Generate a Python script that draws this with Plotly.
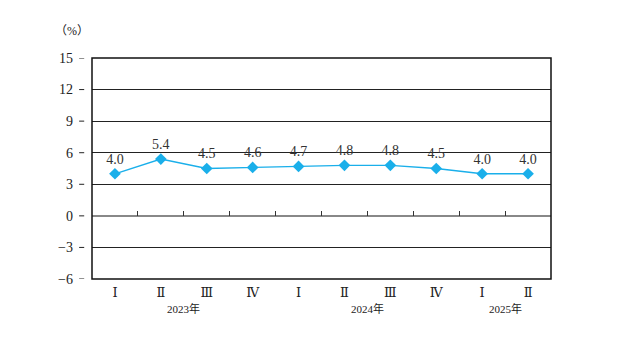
import plotly.graph_objects as go

quarters = ["Ⅰ", "Ⅱ", "Ⅲ", "Ⅳ", "Ⅰ", "Ⅱ", "Ⅲ", "Ⅳ", "Ⅰ", "Ⅱ"]
values = [4.0, 5.4, 4.5, 4.6, 4.7, 4.8, 4.8, 4.5, 4.0, 4.0]
labels = ["4.0", "5.4", "4.5", "4.6", "4.7", "4.8", "4.8", "4.5", "4.0", "4.0"]
years = ["2023年", "2024年", "2025年"]
year_spans = [(0, 3), (4, 7), (8, 9)]
yticks = [15, 12, 9, 6, 3, 0, -3, -6]

serif = "Liberation Serif, DejaVu Serif, Noto Sans CJK SC"
idx = list(range(len(values)))

fig = go.Figure()
fig.add_trace(go.Scatter(
    x=idx, y=values, mode="lines+markers+text",
    line=dict(color="#1AAFEA", width=1.3),
    marker=dict(symbol="diamond", size=9, color="#1AAFEA"),
    text=labels, textposition="top center",
    textfont=dict(family=serif, size=14, color="#333333"),
    cliponaxis=False, showlegend=False,
))
# invisible trace to carry the zero-line tick axis
fig.add_trace(go.Scatter(x=[-0.5, 9.5], y=[0, 0], xaxis="x2", mode="lines",
                         line=dict(width=0), hoverinfo="skip", showlegend=False))

fig.update_layout(
    width=618, height=351,
    margin=dict(l=92, r=67, t=58, b=72),
    paper_bgcolor="white", plot_bgcolor="white",
    xaxis=dict(
        range=[-0.5, 9.5], tickvals=idx, ticktext=quarters,
        showgrid=False, zeroline=False, showline=False, ticks="",
        ticklabelstandoff=4,
        tickfont=dict(family=serif, size=13, color="#222222"),
    ),
    xaxis2=dict(
        range=[-0.5, 9.5], overlaying="x", anchor="free",
        position=(0 - (-6)) / 21, side="top",
        tickvals=[i + 0.5 for i in range(9)], ticks="outside", ticklen=5,
        tickcolor="#333333", tickwidth=1, showticklabels=False,
        showgrid=False, zeroline=False, showline=False,
    ),
    yaxis=dict(
        range=[-6, 15], tickvals=yticks,
        ticktext=[("−" + str(-v)) if v < 0 else str(v) for v in yticks],
        showgrid=True, gridcolor="#222222", gridwidth=1,
        zeroline=True, zerolinecolor="#888888", zerolinewidth=2,
        showline=False, ticks="", ticklabelstandoff=18,
        tickfont=dict(family=serif, size=14, color="#222222"),
    ),
)

# left tick dashes detached from the frame
for v in yticks:
    fig.add_shape(type="line", xref="paper", yref="y", x0=-0.028, x1=-0.017,
                  y0=v, y1=v, line=dict(color="#222222", width=1))

# frame
fig.add_shape(type="rect", xref="x domain", yref="y domain", x0=0, x1=1, y0=0, y1=1,
              line=dict(color="#111111", width=1.5))

for name, (a, b) in zip(years, year_spans):
    fig.add_annotation(x=(a + b) / 2, y=0, xref="x", yref="paper", yshift=-21,
                       text=name, showarrow=False, yanchor="top",
                       font=dict(family=serif, size=11, color="#222222"))

fig.add_annotation(x=-0.044, y=1.08, xref="paper", yref="paper", text="（%）",
                   showarrow=False, yanchor="bottom", xanchor="center",
                   font=dict(family=serif, size=12, color="#222222"))

fig.write_html("out.html")
